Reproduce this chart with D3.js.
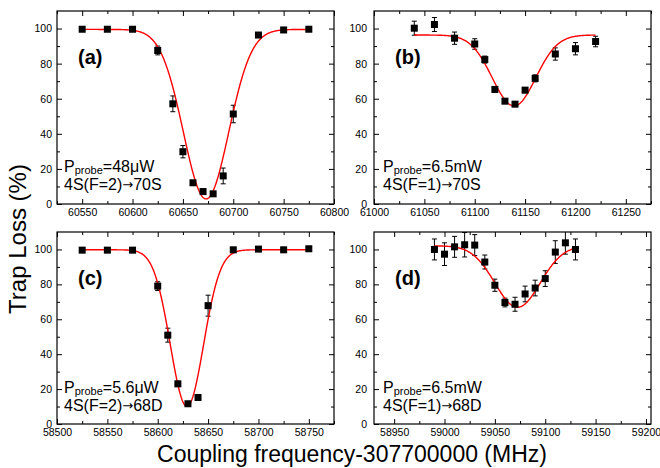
<!DOCTYPE html>
<html><head><meta charset="utf-8">
<script src="https://cdn.jsdelivr.net/npm/d3@7"></script>
<style>
body{margin:0;background:#fff}
text{font-family:"Liberation Sans",Arial,Helvetica,sans-serif;fill:#000}
</style>
</head><body>
<svg id="chart" width="660" height="468"></svg>
<script>
// ---------- data ----------
// (a) 4S(F=2) -> 70S, Pprobe = 48 uW
const freqA = [60550,60575,60600,60625,60640,60650,60660,60670,60680,60690,60700,60725,60750,60775];
const lossA = [99.6,99.6,99.6,87.5,57.1,29.8,12.1,7.1,5.8,16.0,51.3,96.3,99.2,99.6];
const errA  = [0.5,0.5,0.5,2.5,4.5,3.5,1.2,0.8,0.8,4.5,5.0,0.8,0.8,0.5];
const fitA  = [60673, 22.5, 99.5, 2.9];   // centre, sigma, baseline, minimum
const fitRangeA = [60550, 60775];
const xTicksA = [60550,60600,60650,60700,60750,60800];

// (b) 4S(F=1) -> 70S, Pprobe = 6.5 mW
const freqB = [61040,61060,61080,61100,61110,61120,61130,61140,61150,61160,61180,61200,61220];
const lossB = [100.2,102.3,94.5,91.2,82.3,65.3,58.6,56.9,64.9,71.6,85.5,88.5,92.6];
const errB  = [4.0,4.0,3.5,3.0,2.0,1.5,1.0,1.0,1.5,2.0,3.5,3.5,3.0];
const fitB  = [61139, 21.5, 96.3, 55.9];
const fitRangeB = [61040, 61220];
const xTicksB = [61000,61050,61100,61150,61200,61250];

// (c) 4S(F=2) -> 68D, Pprobe = 5.6 uW
const freqC = [58525,58550,58575,58600,58610,58620,58630,58640,58650,58675,58700,58725,58750];
const lossC = [99.6,99.6,99.6,79.0,50.9,23.0,11.6,15.2,67.8,99.8,100.2,99.8,100.4];
const errC  = [0.5,0.5,0.5,2.5,4.0,1.5,0.8,1.5,6.0,0.8,0.5,0.5,0.5];
const fitC  = [58629, 16.5, 99.8, 10.1];
const fitRangeC = [58525, 58750];
const xTicksC = [58500,58550,58600,58650,58700,58750];

// (d) 4S(F=1) -> 68D, Pprobe = 6.5 mW
const freqD = [58990,59000,59010,59020,59030,59040,59050,59060,59070,59080,59090,59100,59110,59120,59130];
const lossD = [100.0,97.3,101.5,102.7,102.5,92.8,79.5,69.6,68.6,74.5,77.9,83.3,98.5,103.8,100.0];
const errD  = [6.0,6.5,6.0,7.0,6.0,4.0,3.5,2.5,4.0,4.5,4.5,4.5,6.5,6.5,6.0];
const fitD  = [59072.5, 22.5, 102.1, 66.9];
const fitRangeD = [58990, 59130];
const xTicksD = [58950,59000,59050,59100,59150,59200];

const yTicks = [0,20,40,60,80,100];
const panelLabels = ["(a)","(b)","(c)","(d)"];
const powerLabels = ["=48\u03bcW","=6.5mW","=5.6\u03bcW","=6.5mW"];
const transitionFrom = ["4S(F=2)","4S(F=1)","4S(F=2)","4S(F=1)"];
const transitionTo = ["70S","70S","68D","68D"];
const yTitle = "Trap Loss (%)";
const xTitle = "Coupling frequency-307700000 (MHz)";

// ---------- layout ----------
const svg = d3.select("#chart");
const panels = [
  {f:freqA,v:lossA,e:errA,fit:fitA,fr:fitRangeA,ticks:xTicksA,dom:[60525,60800],x0:57,x1:334,y0:11,y1:204,pad:5},
  {f:freqB,v:lossB,e:errB,fit:fitB,fr:fitRangeB,ticks:xTicksB,dom:[61000,61275],x0:374,x1:651,y0:11,y1:204,pad:7},
  {f:freqC,v:lossC,e:errC,fit:fitC,fr:fitRangeC,ticks:xTicksC,dom:[58500,58775],x0:57,x1:334,y0:232,y1:424,pad:5},
  {f:freqD,v:lossD,e:errD,fit:fitD,fr:fitRangeD,ticks:xTicksD,dom:[58930,59205],x0:374,x1:651,y0:232,y1:424,pad:7}
];

panels.forEach((p,i)=>{
  const x = d3.scaleLinear().domain(p.dom).range([p.x0,p.x1]);
  const y = d3.scaleLinear().domain([0,110]).range([p.y1,p.y0]);
  const g = svg.append("g");

  const xMinor = d3.range(Math.ceil(p.dom[0]/25)*25, p.dom[1]+0.1, 25).filter(t=>t%50!==0);
  const yMinor = [10,30,50,70,90];

  const styleAxis = sel => { sel.select(".domain").remove(); sel.selectAll("line").attr("stroke","#000"); sel.selectAll("text").style("font-size","10.5px").attr("fill","#000"); };

  g.append("g").attr("transform",`translate(0,${p.y1})`)
    .call(d3.axisBottom(x).tickValues(p.ticks).tickSize(-5).tickPadding(5).tickFormat(d3.format("d"))).call(styleAxis);
  g.append("g").attr("transform",`translate(0,${p.y1})`)
    .call(d3.axisBottom(x).tickValues(xMinor).tickSize(-3).tickFormat("")).call(styleAxis);
  g.append("g").attr("transform",`translate(0,${p.y0})`)
    .call(d3.axisTop(x).tickValues(p.ticks).tickSize(-5).tickFormat("")).call(styleAxis);
  g.append("g").attr("transform",`translate(0,${p.y0})`)
    .call(d3.axisTop(x).tickValues(xMinor).tickSize(-3).tickFormat("")).call(styleAxis);
  g.append("g").attr("transform",`translate(${p.x0},0)`)
    .call(d3.axisLeft(y).tickValues(yTicks).tickSize(-5).tickPadding(p.pad)).call(styleAxis);
  g.append("g").attr("transform",`translate(${p.x0},0)`)
    .call(d3.axisLeft(y).tickValues(yMinor).tickSize(-3).tickFormat("")).call(styleAxis);
  g.append("g").attr("transform",`translate(${p.x1},0)`)
    .call(d3.axisRight(y).tickValues(yTicks).tickSize(-5).tickFormat("")).call(styleAxis);
  g.append("g").attr("transform",`translate(${p.x1},0)`)
    .call(d3.axisRight(y).tickValues(yMinor).tickSize(-3).tickFormat("")).call(styleAxis);

  g.append("rect").attr("x",p.x0).attr("y",p.y0).attr("width",p.x1-p.x0).attr("height",p.y1-p.y0)
    .attr("fill","none").attr("stroke","#000").attr("stroke-width",1.2);

  const cid = "clip"+i;
  svg.append("clipPath").attr("id",cid).append("rect")
    .attr("x",p.x0).attr("y",p.y0).attr("width",p.x1-p.x0).attr("height",p.y1-p.y0);
  const dg = g.append("g").attr("clip-path",`url(#${cid})`);

  const pts = p.f.map((f,k)=>({f, v:p.v[k], e:p.e[k]}));
  const eb = dg.selectAll(".eb").data(pts).enter().append("g");
  eb.append("line").attr("x1",d=>x(d.f)).attr("x2",d=>x(d.f)).attr("y1",d=>y(d.v-d.e)).attr("y2",d=>y(d.v+d.e)).attr("stroke","#000").attr("stroke-width",1);
  eb.append("line").attr("x1",d=>x(d.f)-2.5).attr("x2",d=>x(d.f)+2.5).attr("y1",d=>y(d.v-d.e)).attr("y2",d=>y(d.v-d.e)).attr("stroke","#000");
  eb.append("line").attr("x1",d=>x(d.f)-2.5).attr("x2",d=>x(d.f)+2.5).attr("y1",d=>y(d.v+d.e)).attr("y2",d=>y(d.v+d.e)).attr("stroke","#000");

  const [c,s,b,m] = p.fit;
  const fx = d3.range(p.fr[0], p.fr[1]+0.01, 0.5);
  const line = d3.line().x(d=>x(d)).y(d=>y(b-(b-m)*Math.exp(-(d-c)*(d-c)/(2*s*s))));
  dg.append("path").datum(fx).attr("d",line).attr("fill","none").attr("stroke","#ff0000").attr("stroke-width",1.4);

  dg.selectAll(".pt").data(pts).enter().append("rect")
    .attr("x",d=>x(d.f)-3.5).attr("y",d=>y(d.v)-3.5).attr("width",7).attr("height",7).attr("fill","#000");

  g.append("text").attr("x",p.x0+21).attr("y",p.y0+53).style("font-size","20px").style("font-weight","bold").text(panelLabels[i]);

  const ax = p.x0 + (i%2?9:7);
  const t1 = g.append("text").attr("x",ax).attr("y",p.y0+161).style("font-size","16px");
  t1.append("tspan").text("P");
  t1.append("tspan").attr("dy",2).style("font-size","11px").text("probe");
  t1.append("tspan").attr("dy",-2).text(powerLabels[i]);
  const t2 = g.append("text").attr("x",ax).attr("y",p.y0+179).style("font-size","16px");
  t2.append("tspan").text(transitionFrom[i]);
  t2.append("tspan").style("font-family","'DejaVu Sans'").style("font-size","13px").attr("dy",-1).text("\u2192");
  t2.append("tspan").attr("dy",1).text(transitionTo[i]);
});

svg.append("text").attr("transform","translate(26,239) rotate(-90)").attr("text-anchor","middle").style("font-size","24px").text(yTitle);
svg.append("text").attr("x",352).attr("y",462).attr("text-anchor","middle").style("font-size","23px").text(xTitle);
</script>
</body></html>
